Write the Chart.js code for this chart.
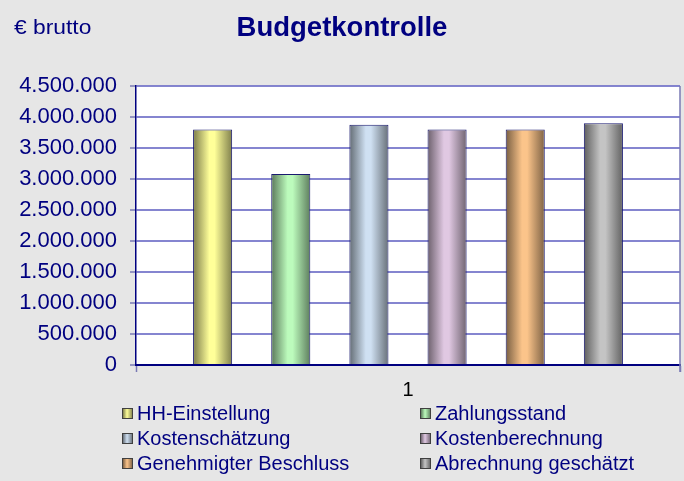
<!DOCTYPE html>
<html>
<head>
<meta charset="utf-8">
<script src="https://cdn.jsdelivr.net/npm/chart.js@4"></script>
<style>
  html, body { margin: 0; padding: 0; background: #e6e6e6; }
  #wrap { position: relative; width: 684px; height: 481px; font-family: "Liberation Sans", Arial, sans-serif; color: #000080; }
  #c { position: absolute; left: 0; top: 0; }
  .txt { position: absolute; white-space: nowrap; line-height: 1; }
  #unit { left: 14px; top: 17px; font-size: 20px; transform: scaleX(1.14); transform-origin: left center; }
  #title { left: 0; width: 684px; text-align: center; top: 13px; font-size: 27.5px; font-weight: bold; }
  .lg { position: absolute; font-size: 20px; line-height: 1; white-space: nowrap; }
  .lg .sq { position: absolute; left: -15px; top: 5px; width: 9px; height: 9px; border: 1px solid #404040; }
</style>
</head>
<body>
<div id="wrap">
  <canvas id="c" width="684" height="481"></canvas>
  <div id="unit" class="txt">€ brutto</div>
  <div id="title" class="txt">Budgetkontrolle</div>
  <div id="legend"></div>
</div>
<script>
/* Daten */
var categories = ['1'];
var seriesNames = ['HH-Einstellung', 'Zahlungsstand', 'Kostenschätzung', 'Kostenberechnung', 'Genehmigter Beschluss', 'Abrechnung geschätzt'];
var seriesValues = [3800000, 3080000, 3875000, 3800000, 3800000, 3900000];
var seriesColors = ['#ffff99', '#bcfbbc', '#cfe0f2', '#e0c8e2', '#fbc48a', '#c4c4c4'];
var yTickLabels = ['0', '500.000', '1.000.000', '1.500.000', '2.000.000', '2.500.000', '3.000.000', '3.500.000', '4.000.000', '4.500.000'];

var NAVY = '#000080';
var GRID = 'rgba(112,112,200,0.85)';

function shade(hex, f) {
  var n = parseInt(hex.slice(1), 16);
  var r = Math.round((n >> 16 & 255) * f), g = Math.round((n >> 8 & 255) * f), b = Math.round((n & 255) * f);
  return 'rgb(' + r + ',' + g + ',' + b + ')';
}
function cylinder(ctx, x0, x1, hex) {
  var g = ctx.createLinearGradient(x0, 0, x1, 0);
  g.addColorStop(0, shade(hex, 0.48));
  g.addColorStop(0.42, hex);
  g.addColorStop(0.55, hex);
  g.addColorStop(1, shade(hex, 0.5));
  return g;
}

/* Plotfläche weiß, rechter Rand, Zylinder-Verlauf der Balken */
var plotBg = {
  id: 'plotBg',
  beforeDraw: function (chart) {
    var a = chart.chartArea, ctx = chart.ctx;
    ctx.save();
    ctx.fillStyle = '#ffffff';
    ctx.fillRect(a.left, a.top, a.right - a.left, a.bottom - a.top);
    ctx.restore();
  },
  beforeDatasetsDraw: function (chart) {
    var ctx = chart.ctx;
    chart.data.datasets.forEach(function (ds, i) {
      chart.getDatasetMeta(i).data.forEach(function (el) {
        var p = el.getProps(['x', 'width'], true);
        el.options.backgroundColor = cylinder(ctx, p.x - p.width / 2, p.x + p.width / 2, seriesColors[i]);
      });
    });
  },
  afterDraw: function (chart) {
    var a = chart.chartArea, ctx = chart.ctx;
    ctx.save();
    ctx.strokeStyle = '#7a7ab4';
    ctx.lineWidth = 1.5;
    ctx.beginPath();
    ctx.moveTo(a.right, a.top);
    ctx.lineTo(a.right, a.bottom + 7);
    ctx.stroke();
    ctx.restore();
  }
};

var datasets = seriesNames.map(function (name, i) {
  return {
    label: name,
    data: [seriesValues[i]],
    backgroundColor: seriesColors[i],
    borderColor: '#1a1a70',
    borderWidth: 1,
    borderSkipped: 'bottom',
    barPercentage: 0.5,
    categoryPercentage: 0.862
  };
});

new Chart(document.getElementById('c'), {
  type: 'bar',
  data: { labels: categories, datasets: datasets },
  options: {
    responsive: false,
    animation: false,
    layout: { padding: { top: 86, right: 4, left: 0, bottom: 0 } },
    plugins: { legend: { display: false }, tooltip: { enabled: false }, title: { display: false } },
    scales: {
      y: {
        min: 0, max: 4500000,
        ticks: {
          stepSize: 500000, color: NAVY, padding: 13,
          font: { family: '"Liberation Sans", Arial, sans-serif', size: 22 },
          callback: function (v, idx) { return yTickLabels[idx]; }
        },
        grid: { color: GRID, lineWidth: 2, tickColor: '#7a7ab4', tickLength: 6, tickWidth: 1.5 },
        border: { color: NAVY, width: 1.5 },
        afterFit: function (s) { s.width = 136; }
      },
      x: {
        ticks: { color: '#000000', padding: 6, font: { family: '"Liberation Sans", Arial, sans-serif', size: 20 } },
        grid: { drawOnChartArea: false, tickLength: 7, tickColor: '#7a7ab4', tickWidth: 1.5 },
        border: { color: NAVY, width: 2 },
        afterFit: function (s) { s.height = 116; }
      }
    }
  },
  plugins: [plotBg]
});

/* Legende, zweispaltig */
var legendPos = [[137, 403], [435, 403], [137, 428], [435, 428], [137, 453], [435, 453]];
var lg = document.getElementById('legend');
seriesNames.forEach(function (name, i) {
  var d = document.createElement('div');
  d.className = 'lg';
  d.style.left = legendPos[i][0] + 'px';
  d.style.top = legendPos[i][1] + 'px';
  var c = seriesColors[i];
  d.innerHTML = '<span class="sq" style="background:linear-gradient(90deg,' + shade(c, 0.5) + ',' + c + ' 45%,' + shade(c, 0.55) + ')"></span>' + name;
  lg.appendChild(d);
});
</script>
</body>
</html>
